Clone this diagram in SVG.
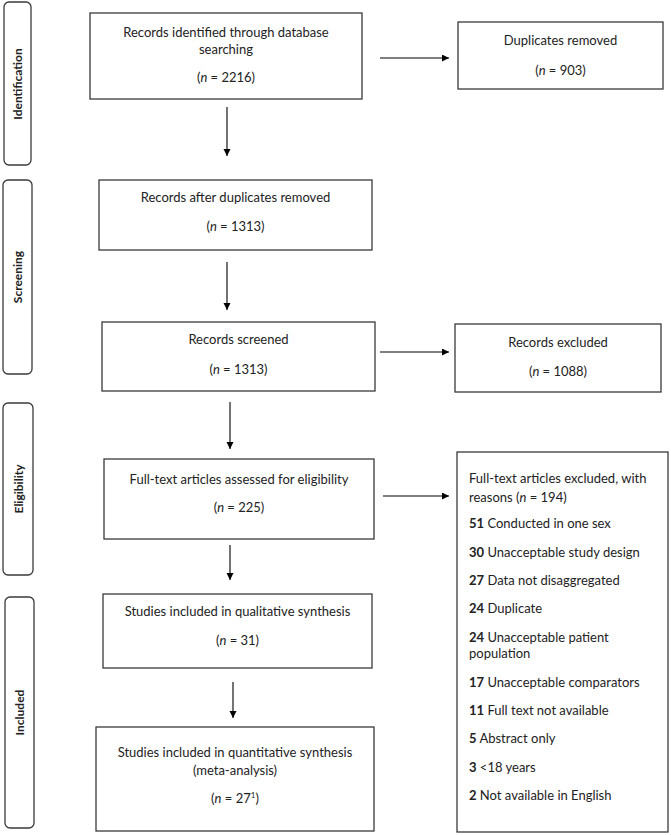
<svg xmlns="http://www.w3.org/2000/svg" width="671" height="835" viewBox="0 0 671 835">
<defs>
<marker id="ah" markerWidth="8" markerHeight="8" refX="7" refY="3.5" orient="auto" markerUnits="userSpaceOnUse">
<path d="M0,0 L7,3.5 L0,7 Z" fill="#000"/>
</marker>
<style>
.box{fill:#fff;stroke:#3a3a3a;stroke-width:1.3}
.stage{fill:#fff;stroke:#3a3a3a;stroke-width:1.3}
text{font-family:Lato,"Liberation Sans",sans-serif;font-size:13px;fill:#222}
.c{text-anchor:middle}
.sl{font-weight:bold;font-size:12px;text-anchor:middle}
.b{font-weight:bold}
.conn line{stroke:#000;stroke-width:1.1;marker-end:url(#ah)}
</style>
</defs>
<rect width="671" height="835" fill="#fff"/>

<g id="stage-identification">
<rect class="stage" x="4" y="2" width="27" height="163" rx="5"/>
<text class="sl" transform="translate(22,84) rotate(-90)">Identification</text>
</g>
<g id="stage-screening">
<rect class="stage" x="3" y="180" width="29" height="194" rx="5"/>
<text class="sl" transform="translate(22,277) rotate(-90)">Screening</text>
</g>
<g id="stage-eligibility">
<rect class="stage" x="3" y="403" width="30" height="172" rx="5"/>
<text class="sl" transform="translate(22.5,489) rotate(-90)">Eligibility</text>
</g>
<g id="stage-included">
<rect class="stage" x="5" y="597" width="29" height="231" rx="5"/>
<text class="sl" transform="translate(24,712.5) rotate(-90)">Included</text>
</g>

<g id="identified">
<rect class="box" x="90" y="13" width="272" height="86"/>
<text class="c" x="226" y="37">Records identified through database</text>
<text class="c" x="226" y="54">searching</text>
<text class="c" x="226" y="82">(<tspan font-style="italic">n</tspan> = 2216)</text>
</g>
<g id="duplicates">
<rect class="box" x="458" y="22" width="205" height="67"/>
<text class="c" x="560.5" y="45">Duplicates removed</text>
<text class="c" x="560.5" y="75">(<tspan font-style="italic">n</tspan> = 903)</text>
</g>
<g id="after-duplicates">
<rect class="box" x="99" y="180" width="273" height="70"/>
<text class="c" x="235.5" y="202">Records after duplicates removed</text>
<text class="c" x="235.5" y="231">(<tspan font-style="italic">n</tspan> = 1313)</text>
</g>
<g id="screened">
<rect class="box" x="102" y="322" width="273" height="69"/>
<text class="c" x="238.5" y="344">Records screened</text>
<text class="c" x="238.5" y="374">(<tspan font-style="italic">n</tspan> = 1313)</text>
</g>
<g id="excluded">
<rect class="box" x="455" y="324" width="206" height="68"/>
<text class="c" x="558" y="347">Records excluded</text>
<text class="c" x="558" y="376">(<tspan font-style="italic">n</tspan> = 1088)</text>
</g>
<g id="fulltext">
<rect class="box" x="104" y="459" width="270" height="80"/>
<text class="c" x="239" y="484">Full-text articles assessed for eligibility</text>
<text class="c" x="239" y="512">(<tspan font-style="italic">n</tspan> = 225)</text>
</g>
<g id="fulltext-excluded">
<rect class="box" x="457" y="452" width="211" height="380"/>
<text x="469" y="483">Full-text articles excluded, with</text>
<text x="469" y="502">reasons (<tspan font-style="italic">n</tspan> = 194)</text>
<text x="469" y="528"><tspan class="b">51</tspan> Conducted in one sex</text>
<text x="469" y="557"><tspan class="b">30</tspan> Unacceptable study design</text>
<text x="469" y="585"><tspan class="b">27</tspan> Data not disaggregated</text>
<text x="469" y="613"><tspan class="b">24</tspan> Duplicate</text>
<text x="469" y="642"><tspan class="b">24</tspan> Unacceptable patient</text>
<text x="469" y="658">population</text>
<text x="469" y="687"><tspan class="b">17</tspan> Unacceptable comparators</text>
<text x="469" y="715"><tspan class="b">11</tspan> Full text not available</text>
<text x="469" y="743"><tspan class="b">5</tspan> Abstract only</text>
<text x="469" y="772"><tspan class="b">3</tspan> &lt;18 years</text>
<text x="469" y="800"><tspan class="b">2</tspan> Not available in English</text>
</g>
<g id="qualitative">
<rect class="box" x="103" y="594" width="269" height="74"/>
<text class="c" x="237.5" y="616">Studies included in qualitative synthesis</text>
<text class="c" x="237.5" y="645">(<tspan font-style="italic">n</tspan> = 31)</text>
</g>
<g id="quantitative">
<rect class="box" x="96" y="727" width="278" height="104"/>
<text class="c" x="235" y="757">Studies included in quantitative synthesis</text>
<text class="c" x="235" y="775">(meta-analysis)</text>
<text class="c" x="235" y="803">(<tspan font-style="italic">n</tspan> = 27<tspan font-size="8" dy="-5">1</tspan><tspan dy="5">)</tspan></text>
</g>

<g id="connectors" class="conn">
<line x1="380" y1="58" x2="449" y2="58"/>
<line x1="227" y1="107" x2="227" y2="156"/>
<line x1="227" y1="262" x2="227" y2="310"/>
<line x1="380" y1="352" x2="449" y2="352"/>
<line x1="230" y1="402" x2="230" y2="449"/>
<line x1="383" y1="496" x2="449" y2="496"/>
<line x1="230" y1="545" x2="230" y2="580"/>
<line x1="233" y1="682" x2="233" y2="718"/>
</g>
</svg>
